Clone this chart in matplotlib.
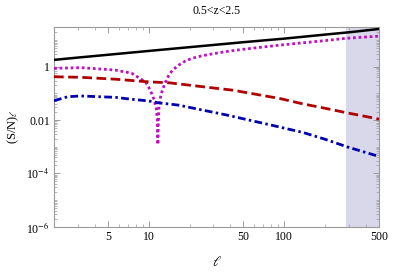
import matplotlib
matplotlib.use("Agg")
import matplotlib.pyplot as plt
from matplotlib.ticker import FixedLocator, NullFormatter

plt.rcParams['font.family'] = ['Liberation Serif', 'DejaVu Serif']
plt.rcParams['mathtext.fontset'] = 'stix'

# ---- data ----
l_black = [2, 3, 5, 10, 20, 50, 100, 200, 300, 500]
v_black = [1.8, 2.2, 2.8, 3.9, 5.4, 8.3, 11.3, 16.0, 19.5, 26.0]

l_mag = [2, 3.16, 5.64, 7.47, 9.45, 10.0, 10.5, 11.0, 11.4, 11.6, 11.68,
         11.75, 11.9, 12.3, 12.9, 13.5, 14.1, 15.0, 16.7, 18.5, 20.9, 25,
         31.4, 40, 50, 66, 100, 131, 200, 284, 400, 500]
v_mag = [0.87, 0.92, 0.75, 0.57, 0.27, 0.17, 0.10, 0.055, 0.025, 0.008, 0.0012,
         0.006, 0.03, 0.09, 0.18, 0.32, 0.49, 0.75, 1.16, 1.6, 2.07, 2.6,
         3.2, 3.9, 4.5, 5.3, 6.7, 7.7, 9.5, 11.6, 13.0, 14.0]

l_red = [2, 3.16, 5.67, 10, 14.1, 31.4, 41.6, 66, 93, 110.6, 138, 185, 292,
         382, 500]
v_red = [0.42, 0.40, 0.34, 0.27, 0.25, 0.155, 0.132, 0.087, 0.064, 0.052,
         0.040, 0.030, 0.0185, 0.0142, 0.0108]

l_blue = [2, 2.53, 3.16, 4.24, 5.67, 7.47, 10, 11.8, 14.1, 16.7, 23.6, 37.4,
          78.7, 93, 138, 200, 292, 500]
v_blue = [0.053, 0.075, 0.080, 0.075, 0.071, 0.060, 0.052, 0.044, 0.040,
          0.036, 0.025, 0.0155, 0.0066, 0.0054, 0.0034, 0.0019, 0.00098,
          0.00043]

shade_range = [285, 500]
x_ticks = [5, 10, 50, 100, 500]
x_ticklabels = ['5', '10', '50', '100', '500']
y_ticks = [1, 1e-2, 1e-4, 1e-6]
y_ticklabels = ['1', '0.01', r'10$^{-4}$', r'10$^{-6}$']
title = '0.5<z<2.5'

fig = plt.figure(figsize=(4.05, 2.72), dpi=100)
ax = fig.add_axes([54/405, 1 - 226.7/272, (379-54)/405, (226.7-26.7)/272])

ax.axvspan(shade_range[0], shade_range[1], color='#d8d8ea', lw=0, zorder=0)

ax.plot(l_black, v_black, color='black', lw=1.8, solid_capstyle='butt', zorder=3)
ax.plot(l_mag, v_mag, color='#c010c0', lw=2.0, dashes=(1.0, 1.0), zorder=3)
ax.plot(l_red, v_red, color='#b00000', lw=2.0, dashes=(3.5, 1.6), zorder=3)
ax.plot(l_blue, v_blue, color='#0000b0', lw=2.0, dashes=(2.8, 1.2, 0.9, 1.2), zorder=3)

ax.set_xscale('log')
ax.set_yscale('log')
ax.set_xlim(2, 500)
ax.set_ylim(1e-6, 10**1.5)

ax.xaxis.set_major_locator(FixedLocator(x_ticks))
ax.set_xticklabels(x_ticklabels)
xminor = [m * 10**e for e in range(0, 3) for m in range(1, 10)]
xminor = [v for v in xminor if 2 <= v <= 500 and v not in x_ticks]
ax.xaxis.set_minor_locator(FixedLocator(xminor))
ax.xaxis.set_minor_formatter(NullFormatter())

ax.yaxis.set_major_locator(FixedLocator(y_ticks))
ax.set_yticklabels(y_ticklabels)
yminor = [m * 10.0**e for e in range(-6, 2) for m in range(1, 10)]
yminor = [v for v in yminor if 1e-6 <= v <= 10**1.5 and v not in y_ticks]
ax.yaxis.set_minor_locator(FixedLocator(yminor))
ax.yaxis.set_minor_formatter(NullFormatter())

for s in ax.spines.values():
    s.set_color('#9a9a9a')
    s.set_linewidth(0.8)
ax.tick_params(which='both', direction='in', top=True, right=True,
               color='#9a9a9a', labelsize=8.5, pad=3)
ax.tick_params(which='major', length=4, width=0.7)
ax.tick_params(which='minor', length=2, width=0.5)

ax.set_title(title, fontsize=8.5, pad=9)
ax.set_xlabel(r'$\ell$', fontsize=10, labelpad=9)
ax.set_ylabel(r'(S/N)$_\ell$', fontsize=9, labelpad=4)

fig.savefig('out.png', dpi=100)
